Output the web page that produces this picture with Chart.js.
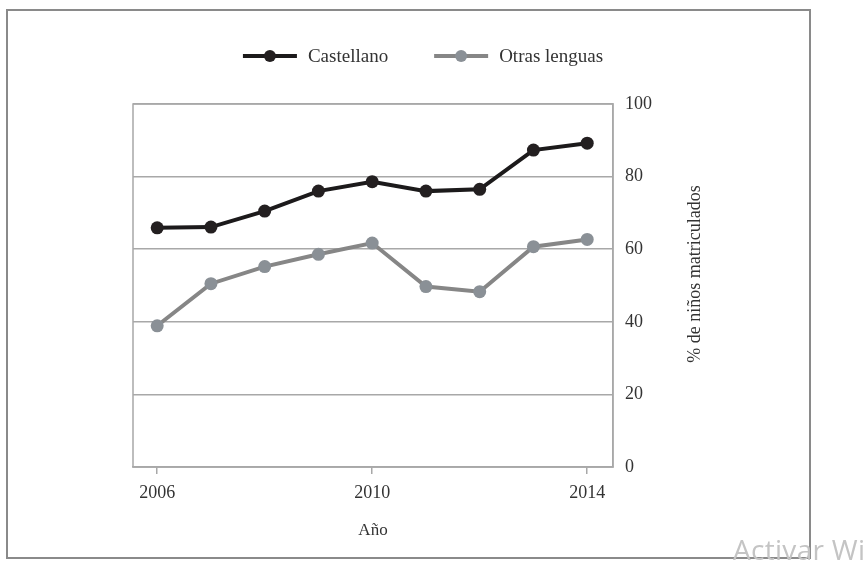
<!DOCTYPE html>
<html>
<head>
<meta charset="utf-8">
<script src="https://cdn.jsdelivr.net/npm/chart.js@4.4.0/dist/chart.umd.min.js"></script>
<style>
  html, body { margin: 0; padding: 0; background: #fff; }
  #wrap { position: relative; width: 867px; height: 562px; overflow: hidden; }
  #frame { position: absolute; left: 6px; top: 9px; width: 805px; height: 550px; box-sizing: border-box; border: 2px solid #8a8a8a; }
  canvas { position: absolute; left: 0; top: 0; }
  #wm { position: absolute; left: 733px; top: 530px; font-family: "Open Sans", sans-serif; font-size: 28px; letter-spacing: 0.3px; color: #c4c4c4; white-space: nowrap; }
</style>
</head>
<body>
<div id="wrap">
  <div id="frame"></div>
  <canvas id="graph" width="867" height="562"></canvas>
  <div id="wm">Activar Windows</div>
</div>
<script>
const years = [2006, 2007, 2008, 2009, 2010, 2011, 2012, 2013, 2014];
const castellano = [65.9, 66.1, 70.5, 76.0, 78.6, 76.0, 76.5, 87.3, 89.2];
const otrasLenguas = [38.9, 50.5, 55.2, 58.6, 61.7, 49.7, 48.3, 60.7, 62.7];
const seriesNames = ['Castellano', 'Otras lenguas'];
const xTicks = [2006, 2010, 2014];
const yTicks = [0, 20, 40, 60, 80, 100];
const xTitle = 'Año';
const yTitle = '% de niños matriculados';

const serif = '"Liberation Serif", "Times New Roman", serif';
const textColor = '#333333';
const gridColor = '#a8a8a8';

function toPoints(values) {
    return years.map((yr, i) => ({ x: yr, y: values[i] }));
}

// legend, plot frame and the rotated right-hand title
const extras = {
    id: 'extras',
    beforeDatasetsDraw(chart) {
        const { ctx, chartArea: a } = chart;
        ctx.save();
        ctx.strokeStyle = gridColor;
        ctx.lineWidth = 1.5;
        ctx.strokeRect(a.left, a.top, a.right - a.left, a.bottom - a.top);
        ctx.restore();
    },
    afterDraw(chart) {
        const ctx = chart.ctx;
        ctx.save();
        ctx.font = '19px ' + serif;
        const items = chart.data.datasets.map(ds => ({ ds, w: ctx.measureText(ds.label).width }));
        const lineW = 54, textGap = 11, itemGap = 46;
        const total = items.reduce((s, it) => s + lineW + textGap + it.w, 0) + itemGap * (items.length - 1);
        let x = 423 - total / 2;
        const y = 56;
        items.forEach(it => {
            ctx.strokeStyle = it.ds.borderColor;
            ctx.lineWidth = 4;
            ctx.beginPath();
            ctx.moveTo(x, y);
            ctx.lineTo(x + lineW, y);
            ctx.stroke();
            ctx.fillStyle = it.ds.pointBackgroundColor;
            ctx.beginPath();
            ctx.arc(x + lineW / 2, y, 6, 0, Math.PI * 2);
            ctx.fill();
            ctx.fillStyle = textColor;
            ctx.textBaseline = 'middle';
            ctx.textAlign = 'left';
            ctx.fillText(it.ds.label, x + lineW + textGap, y + 1);
            x += lineW + textGap + it.w + itemGap;
        });

        const ys = chart.scales.y;
        ctx.translate(ys.left + 82, 274);
        ctx.rotate(-Math.PI / 2);
        ctx.font = '18px ' + serif;
        ctx.textAlign = 'center';
        ctx.textBaseline = 'middle';
        ctx.fillText(yTitle, 0, 0);
        ctx.restore();
    }
};

const ctx = document.getElementById('graph').getContext('2d');
const chart = new Chart(ctx, {
    type: 'line',
    data: {
        datasets: [
            {
                label: seriesNames[0],
                data: toPoints(castellano),
                borderColor: '#1c1a1b',
                backgroundColor: '#231f20',
                pointBackgroundColor: '#231f20',
                pointBorderWidth: 0,
                borderWidth: 4,
                pointRadius: 6.5,
                tension: 0
            },
            {
                label: seriesNames[1],
                data: toPoints(otrasLenguas),
                borderColor: '#868686',
                backgroundColor: '#8a9096',
                pointBackgroundColor: '#8a9096',
                pointBorderWidth: 0,
                borderWidth: 4,
                pointRadius: 6.5,
                tension: 0
            }
        ]
    },
    options: {
        responsive: false,
        animation: false,
        devicePixelRatio: 1,
        layout: { padding: { left: 133, right: 0, top: 104, bottom: 0 } },
        plugins: {
            legend: { display: false },
            tooltip: { enabled: false }
        },
        scales: {
            x: {
                type: 'linear',
                min: 2005.55,
                max: 2014.48,
                afterBuildTicks: s => { s.ticks = xTicks.map(v => ({ value: v })); },
                afterFit: s => { s.height = 95; },
                grid: { drawOnChartArea: false, drawTicks: true, tickLength: 7, color: gridColor, lineWidth: 1.5 },
                border: { display: true, color: gridColor, width: 1.5 },
                ticks: {
                    padding: 8,
                    color: textColor,
                    font: { family: serif, size: 18 },
                    maxRotation: 0,
                    autoSkip: false,
                    callback: v => String(v)
                },
                title: {
                    display: true,
                    text: xTitle,
                    color: textColor,
                    font: { family: serif, size: 17 },
                    padding: { top: 0, bottom: 21 }
                }
            },
            y: {
                position: 'right',
                min: 0,
                max: 100,
                afterBuildTicks: s => { s.ticks = yTicks.map(v => ({ value: v })); },
                afterFit: s => { s.width = 867 - 613; },
                grid: { color: gridColor, lineWidth: 1.5, drawTicks: false },
                border: { display: true, color: gridColor, width: 1.5 },
                ticks: {
                    padding: 12,
                    color: textColor,
                    font: { family: serif, size: 18 }
                }
            }
        }
    },
    plugins: [extras]
});
</script>
</body>
</html>
